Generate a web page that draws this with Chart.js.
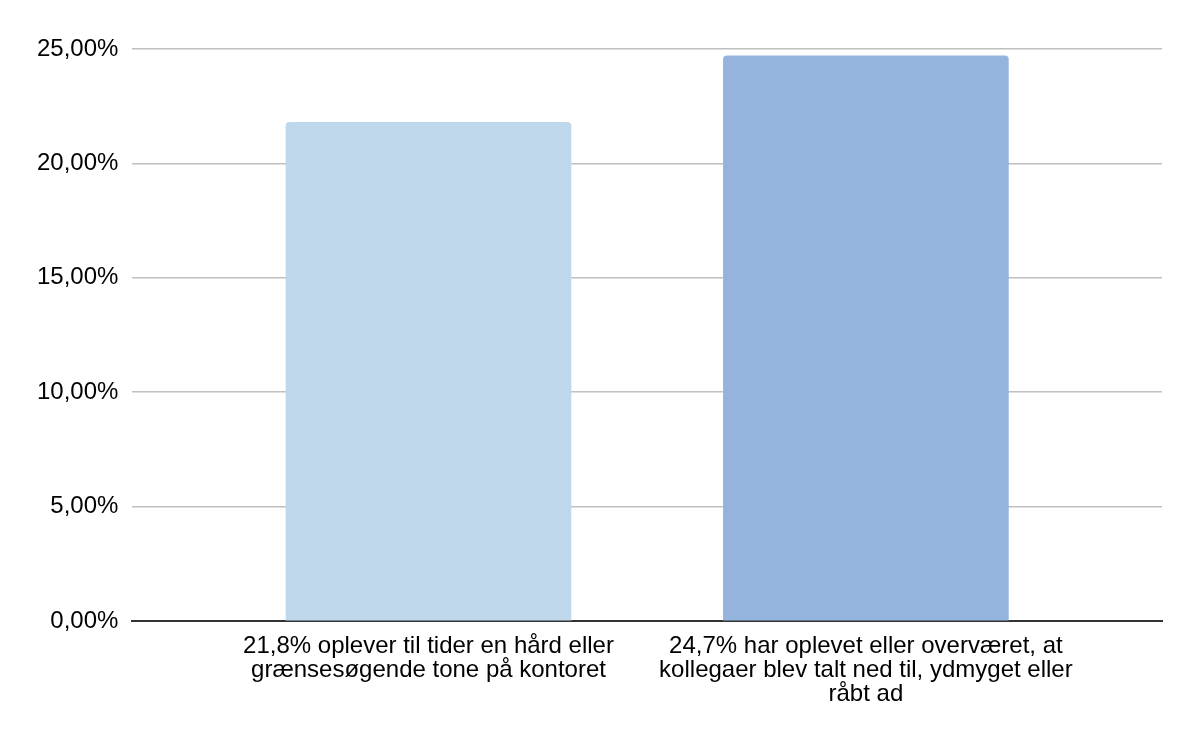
<!DOCTYPE html>
<html>
<head>
<meta charset="utf-8">
<script src="https://cdn.jsdelivr.net/npm/chart.js@4"></script>
<style>
  body { margin: 0; background: #fff; }
  #wrap { width: 1200px; height: 742px; }
</style>
</head>
<body>
<div id="wrap"><canvas id="chart"></canvas></div>
<script>
const categories = [
    ['21,8% oplever til tider en hård eller', 'grænsesøgende tone på kontoret'],
    ['24,7% har oplevet eller overværet, at', 'kollegaer blev talt ned til, ydmyget eller', 'råbt ad']
];
const values = [21.8, 24.7];
const yMin = 0;
const yMax = 25;
const yStep = 5;

const barColors = ['#bfd7ea', '#94b4de'];

// bars sit on a linear x scale so the side margins can match the original
const points = values.map((v, i) => ({ x: i, y: v }));

const ctx = document.getElementById('chart').getContext('2d');
new Chart(ctx, {
    type: 'bar',
    data: {
        datasets: [{
            data: points,
            backgroundColor: barColors,
            borderRadius: { topLeft: 4, topRight: 4 },
            borderSkipped: 'start',
            barThickness: 285
        }]
    },
    options: {
        responsive: true,
        maintainAspectRatio: false,
        animation: false,
        layout: {
            padding: { top: 49, right: 38, bottom: 31, left: 23 }
        },
        scales: {
            x: {
                type: 'linear',
                offset: false,
                min: -0.677,
                max: 1.677,
                grid: { display: false, offset: false },
                border: { display: true, color: '#333', width: 2 },
                afterBuildTicks: axis => {
                    axis.ticks = categories.map((c, i) => ({ value: i }));
                },
                ticks: {
                    autoSkip: false,
                    maxRotation: 0,
                    padding: 5,
                    color: '#000',
                    font: { family: '"Liberation Sans", Arial, sans-serif', size: 24, lineHeight: 1.0 },
                    callback: value => categories[value]
                }
            },
            y: {
                min: yMin,
                max: yMax,
                grid: { color: '#c0c0c0', lineWidth: 1.5, drawTicks: false },
                border: { display: false },
                ticks: {
                    stepSize: yStep,
                    padding: 14,
                    color: '#000',
                    font: { family: '"Liberation Sans", Arial, sans-serif', size: 24 },
                    callback: value => value.toFixed(2).replace('.', ',') + '%'
                }
            }
        },
        plugins: {
            legend: { display: false },
            tooltip: { enabled: false }
        }
    }
});
</script>
</body>
</html>
